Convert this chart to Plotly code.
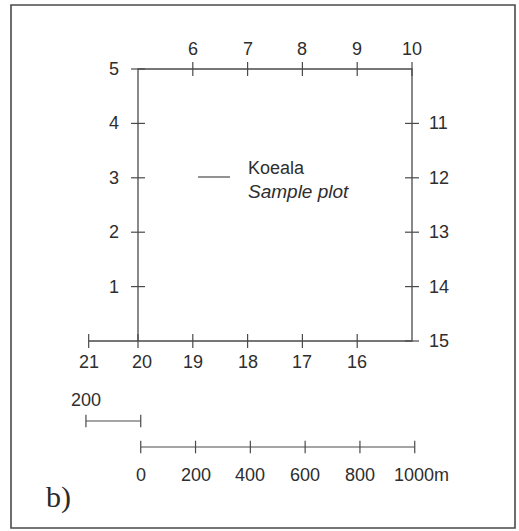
import plotly.graph_objects as go

# ---------------- data ----------------
point_labels = [str(i) for i in range(1, 22)]
point_x = [0, 0, 0, 0, 0,
           200, 400, 600, 800, 1000,
           1000, 1000, 1000, 1000, 1000,
           800, 600, 400, 200, 0,
           -180]
point_y = [200, 400, 600, 800, 1000,
           1000, 1000, 1000, 1000, 1000,
           800, 600, 400, 200, 0,
           0, 0, 0, 0, 0,
           0]
point_side = ['L'] * 5 + ['T'] * 5 + ['R'] * 5 + ['B'] * 6

scale_values = [0, 200, 400, 600, 800, 1000]
scale_labels = ["0", "200", "400", "600", "800", "1000"]
scale_unit = "m"
small_scale_values = [-200, 0]
small_scale_label = "200"

legend_name = "Koeala"
legend_sub = "Sample plot"
panel_label = "b)"

# ---------------- layout constants ----------------
W, H = 519, 531
PX0, PX_PER_M = 138, 0.274      # x pixel of 0 m, pixels per metre
PY0, PY_PER_M = 341, 0.272      # y pixel of 0 m (from top)
SCALE_ORIGIN = 10               # metres shift of the scale bars
SMALL_BAR_Y = (PY0 - 421) / PY_PER_M
MAIN_BAR_Y = (PY0 - 447) / PY_PER_M
MAIN_LABEL_Y = (PY0 - 475) / PY_PER_M
SMALL_LABEL_Y = (PY0 - 400) / PY_PER_M

LINE_COL = "#4a4a4a"
TEXT_COL = "#2e2e2e"
FONT = "Liberation Sans, Arial, sans-serif"
FS = 18

def mx(px):
    return (px - PX0) / PX_PER_M

def my(py):
    return (PY0 - py) / PY_PER_M

fig = go.Figure()

# perimeter path: start at point 20, then 1..21
path_x = [point_x[19]] + point_x
path_y = [point_y[19]] + point_y
fig.add_trace(go.Scatter(x=path_x, y=path_y, mode="lines",
                         line=dict(color=LINE_COL, width=1.3),
                         hoverinfo="skip", showlegend=False))

symbols = ["line-ew" if s in ("L", "R") else "line-ns" for s in point_side]
fig.add_trace(go.Scatter(x=point_x, y=point_y, mode="markers",
                         marker=dict(symbol=symbols, size=10,
                                     line=dict(color=LINE_COL, width=1.2)),
                         text=point_labels, hoverinfo="text", showlegend=False))

# point labels
for lab, x, y, s in zip(point_labels, point_x, point_y, point_side):
    kw = dict(x=x, y=y, text=lab, showarrow=False,
              font=dict(family=FONT, size=FS, color=TEXT_COL))
    if s == "L":
        kw.update(xanchor="right", yanchor="middle", xshift=-17)
    elif s == "R":
        kw.update(xanchor="left", yanchor="middle", xshift=15)
    elif s == "T":
        kw.update(xanchor="center", yanchor="middle", yshift=20)
    else:
        kw.update(xanchor="center", yanchor="middle", yshift=-21,
                  xshift=4 if lab == "20" else 0)
    fig.add_annotation(**kw)

# small scale bar
sx = [v + SCALE_ORIGIN for v in small_scale_values]
fig.add_trace(go.Scatter(x=sx, y=[SMALL_BAR_Y] * len(sx), mode="lines+markers",
                         line=dict(color=LINE_COL, width=1.2),
                         marker=dict(symbol="line-ns", size=9,
                                     line=dict(color=LINE_COL, width=1.2)),
                         hoverinfo="skip", showlegend=False))
fig.add_annotation(x=sx[0], y=SMALL_LABEL_Y, text=small_scale_label, showarrow=False,
                   xanchor="center", yanchor="middle",
                   font=dict(family=FONT, size=FS, color=TEXT_COL))

# main scale bar
mxs = [v + SCALE_ORIGIN for v in scale_values]
fig.add_trace(go.Scatter(x=mxs, y=[MAIN_BAR_Y] * len(mxs), mode="lines+markers",
                         line=dict(color=LINE_COL, width=1.2),
                         marker=dict(symbol="line-ns", size=9,
                                     line=dict(color=LINE_COL, width=1.2)),
                         hoverinfo="skip", showlegend=False))
for i, (x, lab) in enumerate(zip(mxs, scale_labels)):
    last = i == len(mxs) - 1
    fig.add_annotation(x=x, y=MAIN_LABEL_Y, text=lab + (scale_unit if last else ""),
                       showarrow=False,
                       xanchor="left" if last else "center", yanchor="middle",
                       xshift=-23 if last else 0,
                       font=dict(family=FONT, size=FS, color=TEXT_COL))

# legend (inside the square)
fig.add_shape(type="line", x0=mx(198), x1=mx(230), y0=my(177), y1=my(177),
              line=dict(color=LINE_COL, width=1.2))
fig.add_annotation(x=mx(246), y=my(168), text=legend_name, showarrow=False,
                   xanchor="left", yanchor="middle",
                   font=dict(family=FONT, size=FS, color=TEXT_COL))
fig.add_annotation(x=mx(246), y=my(191), text=legend_sub, showarrow=False,
                   xanchor="left", yanchor="middle",
                   font=dict(family=FONT, size=FS + 1, color=TEXT_COL, style="italic"))

# panel label
fig.add_annotation(x=58 / W, y=1 - 497 / H, xref="paper", yref="paper",
                   text=panel_label, showarrow=False, xanchor="center", yanchor="middle",
                   font=dict(family="Liberation Serif, Times New Roman, serif",
                             size=30, color="#2a2a2a"))

# outer frame
fig.add_shape(type="rect", xref="paper", yref="paper",
              x0=11 / W, x1=515 / W, y0=1 - 528 / H, y1=1 - 5 / H,
              line=dict(color="#4a4a4a", width=1.6))

fig.update_layout(
    width=W, height=H, autosize=False,
    margin=dict(l=0, r=0, t=0, b=0),
    paper_bgcolor="white", plot_bgcolor="white",
    xaxis=dict(range=[mx(0), mx(W)], visible=False, fixedrange=True),
    yaxis=dict(range=[my(H), my(0)], visible=False, fixedrange=True),
    showlegend=False,
)

fig.write_html(
    "out.html",
    config={"displayModeBar": False},
    post_script="document.body.style.margin='0';document.body.style.overflow='hidden';",
)
